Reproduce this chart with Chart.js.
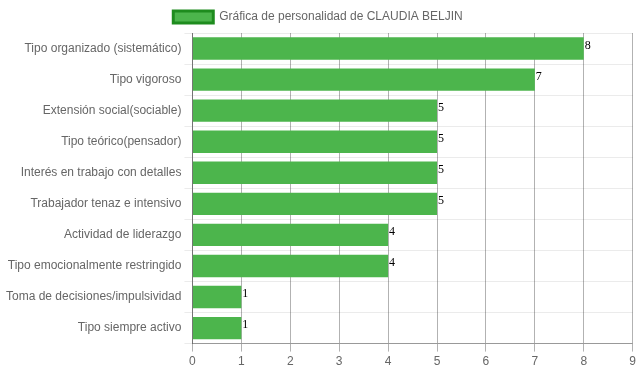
<!DOCTYPE html>
<html><head><meta charset="utf-8">
<script src="https://cdn.jsdelivr.net/npm/chart.js@4/dist/chart.umd.min.js"></script>
<style>html,body{margin:0;padding:0;background:#fff}#w{width:639px;height:372px}</style>
</head><body><div id="w"><canvas id="c"></canvas></div>
<script>
const categories = ["Tipo organizado (sistemático)","Tipo vigoroso","Extensión social(sociable)","Tipo teórico(pensador)","Interés en trabajo con detalles","Trabajador tenaz e intensivo","Actividad de liderazgo","Tipo emocionalmente restringido","Toma de decisiones/impulsividad","Tipo siempre activo"];
const values = [8,7,5,5,5,5,4,4,1,1];
const seriesLabel = "Gráfica de personalidad de CLAUDIA BELJIN";

const valueLabels = {
  id:'valueLabels',
  afterDatasetsDraw(chart){
    const ctx = chart.ctx;
    const meta = chart.getDatasetMeta(0);
    ctx.save();
    ctx.font = '12px "Liberation Serif", serif';
    ctx.fillStyle = '#000';
    ctx.textAlign = 'left';
    ctx.textBaseline = 'middle';
    meta.data.forEach((el,i)=>{
      ctx.fillText(String(values[i]), el.x + 1, el.y - 3);
    });
    ctx.restore();
  }
};

Chart.defaults.font.family = 'Arial, "Liberation Sans", sans-serif';
Chart.defaults.font.size = 12;
Chart.defaults.color = '#666';

new Chart(document.getElementById('c'), {
  type:'bar',
  data:{labels:categories,datasets:[{label:seriesLabel,data:values,backgroundColor:'#4cb54c',borderColor:'#1e8c1e',borderWidth:0}]},
  options:{
    indexAxis:'y',
    responsive:true,maintainAspectRatio:false,animation:false,
    layout:{padding:{right:6,left:3,top:1,bottom:0}},
    plugins:{
      legend:{labels:{boxWidth:40,generateLabels(chart){
        return [{text:seriesLabel,fillStyle:'#4cb54c',strokeStyle:'#1e8c1e',lineWidth:3,datasetIndex:0,hidden:false,fontColor:'#666'}];
      }}},
      tooltip:{enabled:false}
    },
    scales:{
      x:{min:0,max:9,ticks:{stepSize:1,color:'#666'},grid:{color:'rgba(0,0,0,0.3)',drawTicks:true,tickLength:8},border:{color:'rgba(0,0,0,0.35)'}},
      y:{ticks:{color:'#666'},grid:{color:'rgba(0,0,0,0.08)',offset:true},border:{color:'rgba(0,0,0,0.35)'}}
    }
  },
  plugins:[valueLabels]
});
</script></body></html>
